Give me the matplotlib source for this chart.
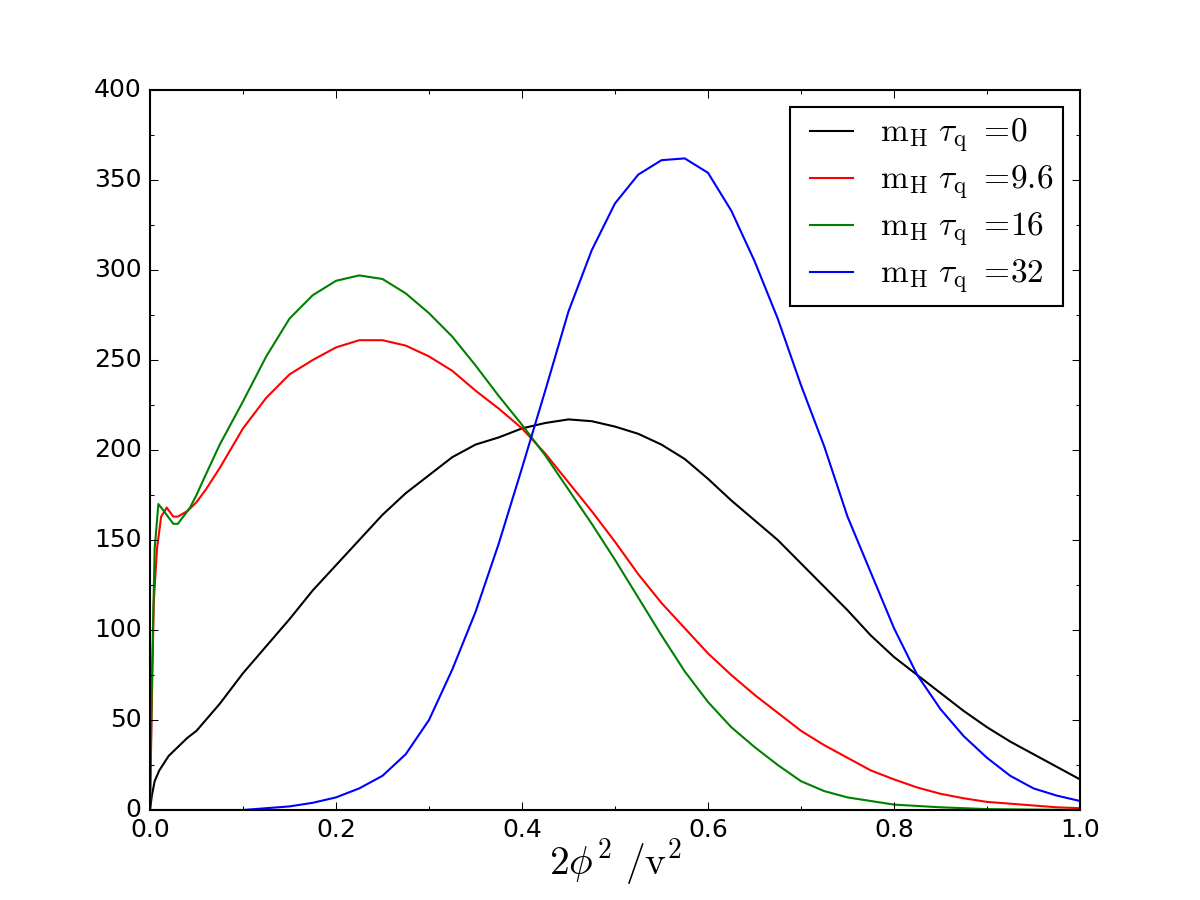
import matplotlib
matplotlib.use("Agg")
import matplotlib.pyplot as plt
from matplotlib.ticker import AutoMinorLocator, MultipleLocator

plt.style.use("classic")
plt.rcParams["mathtext.fontset"] = "cm"

# tau_q = 0
x_k = [0, 0.002, 0.005, 0.01, 0.02, 0.03, 0.04, 0.05, 0.075, 0.1, 0.125, 0.15, 0.175, 0.2,
       0.225, 0.25, 0.275, 0.3, 0.325, 0.35, 0.375, 0.4, 0.425, 0.45, 0.475, 0.5, 0.525,
       0.55, 0.575, 0.6, 0.625, 0.65, 0.675, 0.7, 0.725, 0.75, 0.775, 0.8, 0.825, 0.85,
       0.875, 0.9, 0.925, 0.95, 0.975, 1.0]
y_k = [0, 8, 16, 22, 30, 35, 40, 44, 59, 76, 91, 106, 122, 136,
       150, 164, 176, 186, 196, 203, 207, 212, 215, 217, 216, 213, 209,
       203, 195, 184, 172, 161, 150, 137, 124, 111, 97, 85, 75, 65,
       55, 46, 38, 31, 24, 17]

# tau_q = 9.6
x_r = [0, 0.002, 0.004, 0.0075, 0.012, 0.018, 0.025, 0.03, 0.04, 0.05, 0.06, 0.075, 0.1,
       0.125, 0.15, 0.175, 0.2, 0.225, 0.25, 0.275, 0.3, 0.325, 0.35, 0.375, 0.4, 0.425,
       0.45, 0.475, 0.5, 0.525, 0.55, 0.575, 0.6, 0.625, 0.65, 0.675, 0.7, 0.725, 0.75,
       0.775, 0.8, 0.825, 0.85, 0.875, 0.9, 0.925, 0.95, 0.975, 1.0]
y_r = [0, 60, 115, 145, 163, 168, 163, 163, 166, 171, 178, 190, 212,
       229, 242, 250, 257, 261, 261, 258, 252, 244, 233, 223, 212, 198,
       182, 166, 149, 131, 115, 101, 87, 75, 64, 54, 44, 36, 29,
       22, 17, 12.5, 9, 6.5, 4.5, 3.5, 2.5, 1.5, 1]

# tau_q = 16
x_g = [0, 0.002, 0.005, 0.009, 0.015, 0.025, 0.03, 0.043, 0.05, 0.057, 0.075, 0.1, 0.125,
       0.15, 0.175, 0.2, 0.225, 0.25, 0.275, 0.3, 0.325, 0.35, 0.375, 0.4, 0.425, 0.45,
       0.475, 0.5, 0.525, 0.55, 0.575, 0.6, 0.625, 0.65, 0.675, 0.7, 0.725, 0.75, 0.775,
       0.8, 0.85, 0.9, 1.0]
y_g = [0, 71, 145, 170, 166, 159, 159, 168, 175, 183, 203, 227, 252,
       273, 286, 294, 297, 295, 287, 276, 263, 247, 230, 214, 197, 178,
       159, 139, 118, 97, 77, 60, 46, 35, 25, 16, 10.5, 7, 5,
       3, 1.5, 0.5, 0]

# tau_q = 32
x_b = [0, 0.05, 0.1, 0.125, 0.15, 0.175, 0.2, 0.225, 0.25, 0.275, 0.3, 0.325, 0.35, 0.375,
       0.4, 0.425, 0.45, 0.475, 0.5, 0.525, 0.55, 0.575, 0.6, 0.625, 0.65, 0.675, 0.7,
       0.725, 0.75, 0.775, 0.8, 0.825, 0.85, 0.875, 0.9, 0.925, 0.95, 0.975, 1.0]
y_b = [0, 0, 0, 1, 2, 4, 7, 12, 19, 31, 50, 78, 110, 148,
       190, 233, 277, 311, 337, 353, 361, 362, 354, 333, 305, 273, 236,
       202, 163, 132, 101, 75, 56, 41, 29, 19, 12, 8, 5]

labels = ["0", "9.6", "16", "32"]

fig = plt.figure(figsize=(8, 6))
ax = fig.add_subplot(111)

series = [(x_k, y_k, "k"), (x_r, y_r, "r"), (x_g, y_g, "g"), (x_b, y_b, "b")]
for (xs, ys, c), lab in zip(series, labels):
    ax.plot(xs, ys, color=c, lw=1.0,
            label=r"$\mathrm{m_H}\ \tau_\mathrm{q}\ =\!" + lab + "$")

ax.set_xlim(0, 1)
ax.set_ylim(0, 400)
ax.xaxis.set_major_locator(MultipleLocator(0.2))
ax.yaxis.set_major_locator(MultipleLocator(50))
ax.xaxis.set_minor_locator(AutoMinorLocator(2))
ax.yaxis.set_minor_locator(AutoMinorLocator(2))
ax.set_xlabel(r"$2\phi^2\ /\mathrm{v}^2$", fontsize=19, labelpad=-2)

ax.legend(loc="upper right", fontsize=16, handlelength=1.9,
          labelspacing=0.25, handletextpad=0.5, borderpad=0.3)

fig.savefig("out.png", dpi=150)
